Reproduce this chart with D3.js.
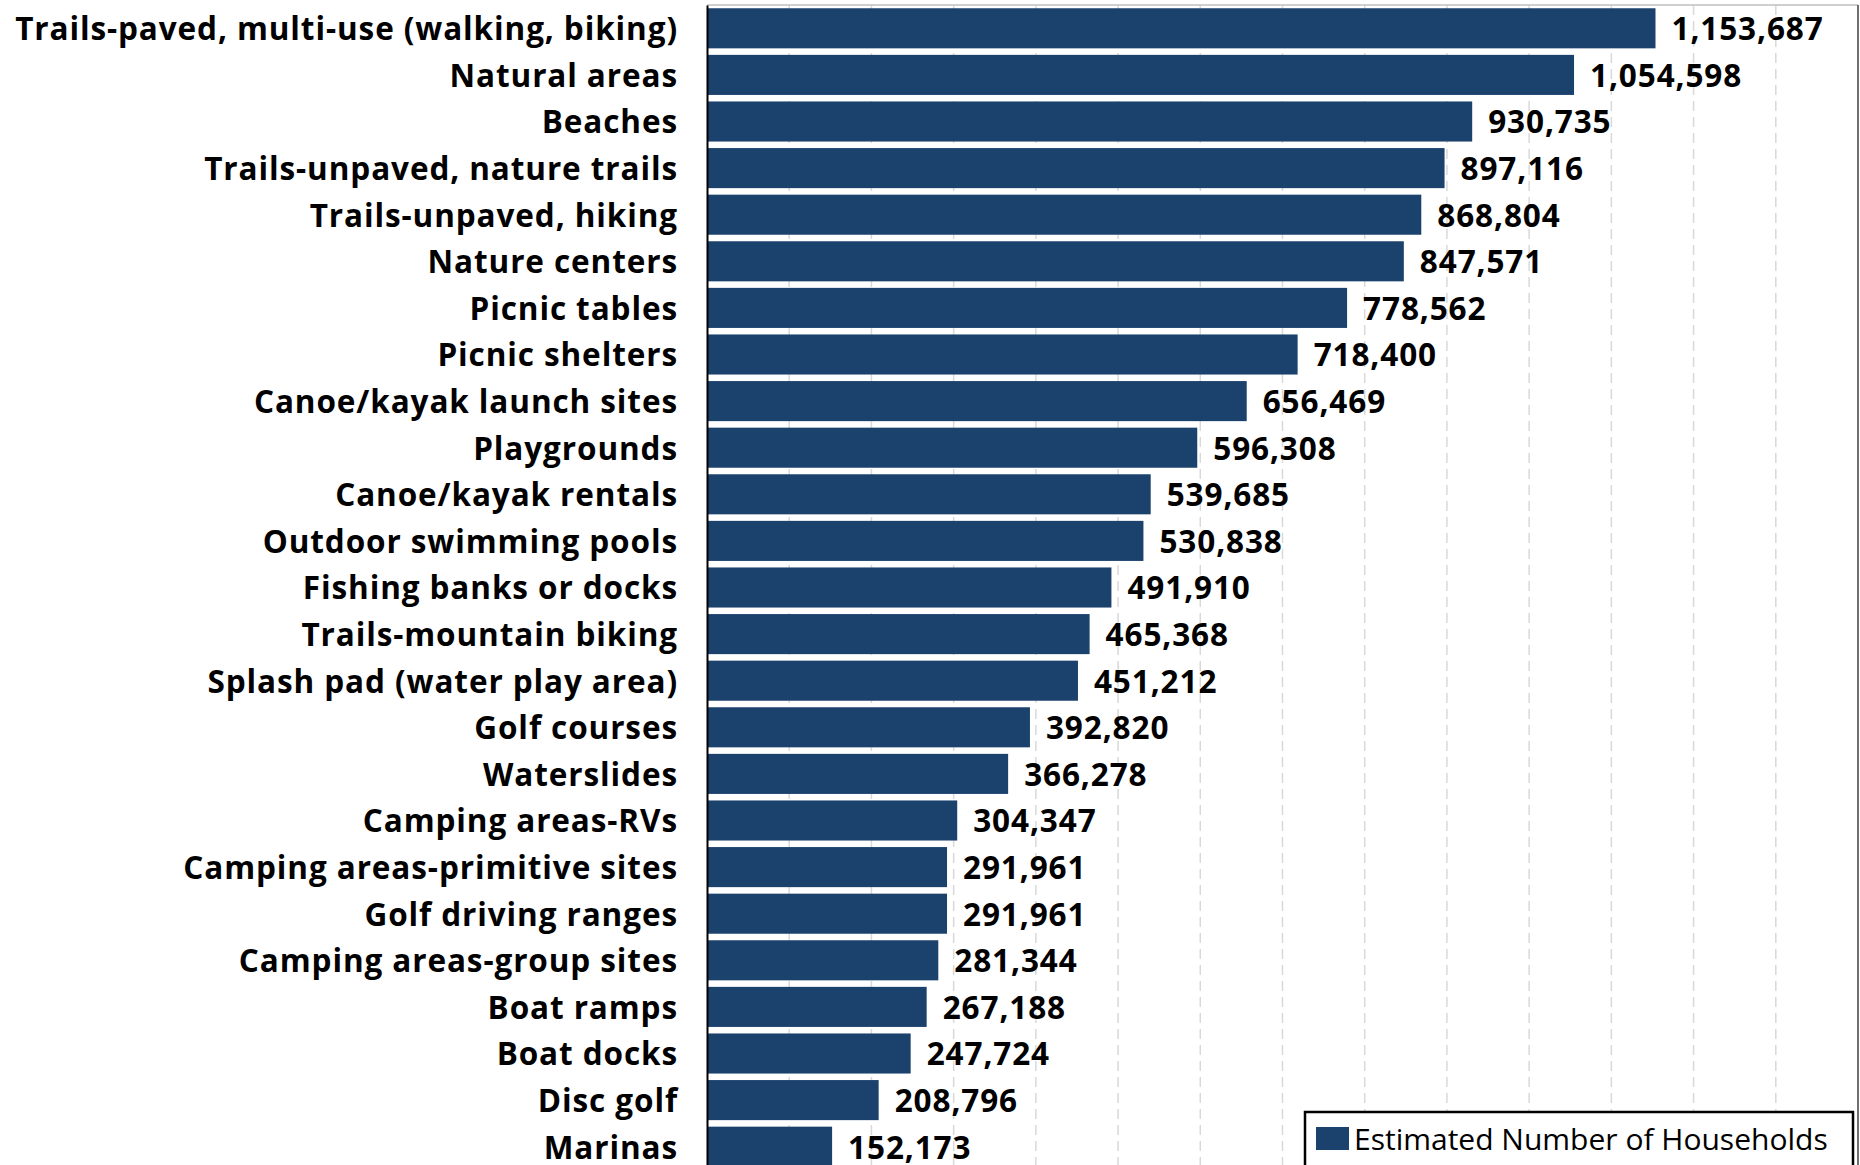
<!DOCTYPE html>
<html><head><meta charset="utf-8">
<script src="https://cdn.jsdelivr.net/npm/d3@7/dist/d3.min.js"></script>
<style>html,body{margin:0;padding:0;background:#fff;overflow:hidden}</style>
</head><body>
<svg id="c" width="1860" height="1165"></svg>
<script>
const categories = ["Trails-paved, multi-use (walking, biking)","Natural areas","Beaches","Trails-unpaved, nature trails","Trails-unpaved, hiking","Nature centers","Picnic tables","Picnic shelters","Canoe/kayak launch sites","Playgrounds","Canoe/kayak rentals","Outdoor swimming pools","Fishing banks or docks","Trails-mountain biking","Splash pad (water play area)","Golf courses","Waterslides","Camping areas-RVs","Camping areas-primitive sites","Golf driving ranges","Camping areas-group sites","Boat ramps","Boat docks","Disc golf","Marinas"];
const households = [1153687,1054598,930735,897116,868804,847571,778562,718400,656469,596308,539685,530838,491910,465368,451212,392820,366278,304347,291961,291961,281344,267188,247724,208796,152173];
const gridTicks = [100000,200000,300000,400000,500000,600000,700000,800000,900000,1000000,1100000,1200000,1300000];
const seriesName = "Estimated Number of Households";

const svg = d3.select("#c");
const font = "'Open Sans', sans-serif";
const fs = 31.5;
const ls = "0.9px";
const x = d3.scaleLinear().domain([0,1400000]).range([707,1858]);
const y = d3.scaleBand().domain(categories).range([5,1170]).paddingInner(0.14).paddingOuter(0.07);

svg.append("g").selectAll("line").data(gridTicks).join("line")
  .attr("x1",d=>x(d)).attr("x2",d=>x(d)).attr("y1",5).attr("y2",1165)
  .attr("stroke","#d9d9d9").attr("stroke-width",1.5).attr("stroke-dasharray","10,6");

svg.append("line").attr("x1",707).attr("x2",1858).attr("y1",5).attr("y2",5).attr("stroke","#bfbfbf").attr("stroke-width",1.5);
svg.append("line").attr("x1",1858).attr("x2",1858).attr("y1",5).attr("y2",1165).attr("stroke","#404040").attr("stroke-width",1.5);

svg.append("g").selectAll("rect").data(categories).join("rect")
  .attr("x",x(0)).attr("y",d=>y(d)).attr("width",(d,i)=>x(households[i])-x(0)).attr("height",y.bandwidth())
  .attr("fill","#1b416d");

const ax = svg.append("g").attr("transform",`translate(${x(0)},0)`).call(d3.axisLeft(y).tickSize(0).tickPadding(29));
ax.select(".domain").attr("stroke","#000").attr("stroke-width",2);
ax.selectAll("text").attr("font-family",font).attr("font-size",fs).attr("font-weight","bold").attr("letter-spacing",ls).attr("fill","#000").attr("dy","0.38em");

svg.append("g").selectAll("text").data(categories).join("text")
  .attr("x",(d,i)=>x(households[i])+16).attr("y",d=>y(d)+y.bandwidth()/2).attr("dy","0.38em")
  .attr("font-family",font).attr("font-size",fs).attr("font-weight","bold").attr("letter-spacing",ls).attr("fill","#000")
  .text((d,i)=>d3.format(",")(households[i]));

const lg = svg.append("g");
lg.append("rect").attr("x",1305).attr("y",1112).attr("width",548).attr("height",80).attr("fill","#fff").attr("stroke","#000").attr("stroke-width",2.5);
lg.append("rect").attr("x",1316).attr("y",1127).attr("width",33).attr("height",23).attr("fill","#1b416d");
lg.append("text").attr("x",1354).attr("y",1139).attr("dy","0.37em").attr("font-family",font).attr("font-size",30).attr("fill","#000").text(seriesName);
</script>
</body></html>
